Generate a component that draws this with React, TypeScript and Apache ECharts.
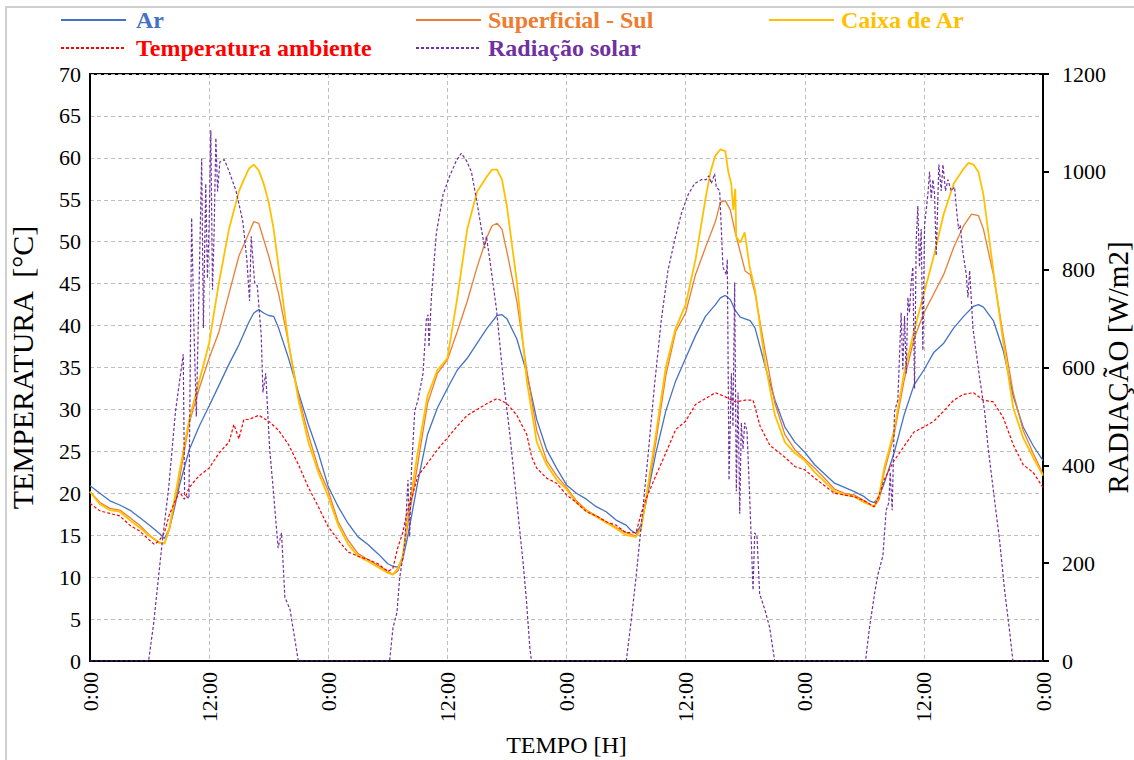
import React, { useEffect, useRef } from "react";
import * as echarts from "echarts";

// ---- Data (hours since start, value) ----
const seriesNames = ["Ar", "Superficial - Sul", "Caixa de Ar", "Temperatura ambiente", "Radiação solar"];
const seriesColors = ["#4472C4", "#ED7D31", "#FFC000", "#FF0000", "#7030A0"];
const xTickLabels = ["0:00", "12:00"];

const ar: number[][] = [
  [0, 20.9], [1, 20.0], [2, 19.1], [3, 18.6], [4, 18.0], [5, 17.1], [6, 16.2], [7, 15.2], [7.5, 14.6], [8, 15.8], [8.5, 18.2], [9, 20.9], [10, 25.2], [11, 28.0], [12, 30.4], [13, 32.9], [14, 35.4], [15, 37.7], [16, 40.4], [16.5, 41.5], [17, 41.9], [17.5, 41.5], [18, 41.2], [18.5, 41.1], [19, 39.7], [20, 36.1], [21, 32.0], [22, 28.2], [23, 24.8],
  [24, 20.8], [25, 18.4], [26, 16.4], [27, 14.8], [28, 13.9], [29, 12.8], [30, 11.6], [30.5, 11.3], [31, 11.2], [31.5, 12.1], [32, 14.8], [33, 21.2], [34, 27.0], [35, 30.2], [36, 32.5], [37, 34.7], [38, 36.1], [39, 37.9], [40, 39.7], [41, 41.2], [41.5, 41.3], [42, 40.8], [43, 38.4], [44, 34.3], [45, 28.8], [46, 25.2], [47, 23.0],
  [48, 21.0], [49, 20.0], [50, 19.3], [51, 18.4], [52, 17.8], [53, 16.8], [54, 16.2], [54.5, 15.6], [55, 15.2], [55.5, 16.2], [56, 18.9], [57, 24.8], [58, 29.8], [59, 33.4], [60, 36.1], [61, 38.8], [62, 41.1], [63, 42.5], [63.5, 43.3], [64, 43.6], [64.5, 43.1], [65, 41.8], [65.5, 41.0], [66, 40.8], [66.5, 40.6], [67, 39.7], [68, 35.2], [69, 31.1], [70, 27.9], [71, 26.1],
  [72, 24.9], [73, 23.4], [74, 22.3], [75, 21.2], [76, 20.7], [77, 20.2], [78, 19.6], [78.5, 19.1], [79, 18.9], [79.5, 19.6], [80, 21.2], [81, 24.8], [82, 29.3], [83, 32.9], [84, 34.7], [85, 36.8], [86, 37.9], [87, 39.7], [88, 41.1], [89, 42.3], [89.5, 42.5], [90, 42.2], [91, 40.6], [92, 37.0], [93, 31.6], [94, 27.9], [95, 25.7], [96, 23.9],
];

const superficialSul: number[][] = [
  [0, 20.2], [1, 18.9], [2, 18.2], [3, 18.0], [4, 17.1], [5, 16.2], [6, 15.0], [7, 14.1], [7.5, 14.0], [8, 15.7], [9, 21.6], [10, 28.4], [11, 32.5], [12, 36.1], [13, 39.3], [14, 43.8], [15, 48.3], [16, 51.0], [16.5, 52.4], [17, 52.2], [18, 48.3], [19, 43.8], [20, 37.9], [21, 31.6], [22, 27.0], [23, 23.0],
  [24, 20.3], [25, 16.6], [26, 14.4], [27, 12.8], [28, 12.1], [29, 11.4], [30, 10.7], [30.5, 10.3], [31, 10.7], [31.5, 12.1], [32, 16.2], [33, 23.4], [34, 30.7], [35, 34.3], [36, 35.9], [37, 39.3], [38, 42.9], [39, 47.0], [40, 50.6], [40.5, 51.9], [41, 52.2], [41.5, 51.5], [42, 48.8], [43, 42.9], [44, 34.7], [45, 27.5], [46, 23.9], [47, 22.1],
  [48, 20.7], [49, 19.1], [50, 18.0], [51, 17.3], [52, 16.6], [53, 15.9], [54, 15.3], [55, 14.9], [55.5, 15.9], [56, 18.9], [57, 26.1], [58, 34.0], [59, 39.3], [60, 41.5], [61, 46.1], [62, 49.3], [63, 52.4], [63.5, 54.7], [64, 54.9], [64.5, 53.8], [65, 51.1], [65.5, 48.8], [66, 46.5], [66.5, 46.1], [67, 43.8], [68, 37.0], [69, 30.7], [70, 27.0], [71, 25.2],
  [72, 24.1], [73, 23.0], [74, 21.8], [75, 20.5], [76, 20.0], [77, 19.8], [78, 19.1], [79, 18.4], [79.5, 19.3], [80, 22.5], [81, 27.0], [82, 33.4], [83, 38.4], [84, 41.5], [85, 43.8], [86, 46.1], [87, 49.3], [88, 51.9], [88.8, 53.3], [89.5, 53.1], [90, 51.5], [91, 46.1], [92, 38.8], [93, 32.0], [94, 27.5], [95, 24.8], [96, 22.3],
];

const caixaDeAr: number[][] = [
  [0, 20.2], [1, 18.7], [2, 18.0], [3, 17.8], [4, 16.8], [5, 15.9], [6, 14.9], [7, 14.1], [7.5, 14.0], [8, 15.9], [9, 22.5], [10, 28.8], [11, 33.4], [12, 37.9], [13, 45.2], [14, 51.5], [15, 56.0], [15.5, 57.4], [16, 58.7], [16.5, 59.2], [17, 58.5], [17.5, 56.9], [18, 54.7], [18.5, 51.5], [19, 47.0], [20, 37.9], [21, 31.1], [22, 26.1], [23, 22.5],
  [24, 19.6], [25, 16.2], [26, 13.9], [27, 12.5], [28, 11.9], [29, 11.2], [30, 10.5], [30.5, 10.3], [31, 11.0], [31.5, 12.5], [32, 17.1], [33, 24.8], [34, 31.6], [35, 34.7], [36, 36.1], [37, 43.3], [38, 51.5], [39, 56.0], [40, 57.8], [40.5, 58.6], [41, 58.6], [41.5, 57.4], [42, 54.2], [43, 45.2], [44, 33.4], [45, 26.1], [46, 23.4], [47, 21.6],
  [48, 20.5], [49, 18.9], [50, 17.9], [51, 17.2], [52, 16.5], [53, 15.8], [54, 15.0], [55, 14.8], [55.5, 15.7], [56, 19.3], [57, 27.0], [58, 35.0], [59, 39.7], [60, 42.5], [61, 47.9], [62, 55.1], [62.5, 58.3], [63, 60.3], [63.5, 61.0], [64, 60.8], [64.3, 58.3], [64.6, 56.9], [64.8, 53.8], [65, 56.3], [65.1, 50.6], [65.5, 49.9], [65.95, 51.1], [66.45, 47.0], [67, 44.2], [68, 35.6], [69, 29.3], [70, 26.1], [71, 24.8],
  [72, 23.9], [73, 22.5], [74, 21.4], [75, 20.2], [76, 19.8], [77, 19.6], [78, 18.9], [79, 18.4], [79.5, 19.8], [80, 23.0], [81, 27.5], [82, 34.3], [83, 39.3], [84, 43.8], [85, 48.3], [86, 53.3], [87, 56.9], [88, 58.7], [88.5, 59.4], [89, 59.2], [89.5, 58.3], [90, 55.6], [91, 46.5], [92, 38.0], [93, 30.2], [94, 26.6], [95, 24.3], [96, 22.1],
];

const tempAmbiente: number[][] = [
  [0, 18.8], [1, 17.9], [2, 17.6], [3, 17.3], [4, 16.2], [5, 15.5], [6, 14.4], [6.5, 13.9], [7, 14.4], [7.5, 15.3], [8, 17.5], [9, 20.2], [9.5, 19.3], [10, 20.7], [11, 22.1], [12, 23.0], [13, 24.8], [14, 26.1], [14.5, 28.2], [15, 26.5], [15.5, 28.8], [16, 28.8], [17, 29.3], [18, 28.6], [19, 27.5], [20, 25.8], [21, 23.4], [22, 20.7], [23, 18.4],
  [24, 16.0], [25, 14.4], [26, 13.0], [27, 12.5], [28, 12.1], [29, 11.6], [30, 10.7], [30.5, 11.0], [31, 13.5], [31.5, 15.3], [32, 18.0], [32.5, 19.8], [33, 22.0], [34, 23.6], [35, 25.2], [36, 26.6], [37, 28.0], [38, 29.3], [39, 30.0], [40, 30.7], [41, 31.3], [42, 30.7], [43, 29.3], [44, 27.0], [44.5, 24.3], [45, 23.0], [46, 21.8], [47, 21.2],
  [48, 19.8], [49, 18.9], [50, 17.8], [51, 17.3], [52, 16.6], [53, 16.2], [54, 15.3], [55, 15.3], [55.5, 17.5], [56, 19.3], [57, 22.1], [58, 24.8], [59, 27.6], [60, 28.6], [61, 30.6], [62, 31.3], [63, 32.0], [64, 31.5], [65, 30.9], [66, 31.1], [66.8, 31.1], [67.5, 28.0], [68.5, 25.7], [70, 24.3], [71, 23.2],
  [72, 22.8], [73, 21.8], [74, 20.9], [75, 20.0], [76, 19.8], [77, 19.6], [78, 19.1], [79, 18.4], [79.5, 19.8], [80, 21.6], [81, 23.9], [82, 25.6], [83, 27.3], [84, 27.9], [85, 28.6], [86, 29.8], [87, 31.1], [88, 31.8], [89, 32.0], [90, 31.1], [91, 30.9], [92, 29.0], [93, 25.8], [94, 23.4], [95, 22.5], [96, 20.7],
];

const radiacao: number[][] = [
  [0, 0], [5.9, 0], [6.4, 75], [7.25, 238], [7.93, 355], [8.61, 510], [9.39, 627], [9.53, 340], [9.97, 332], [10.24, 906], [10.47, 681], [10.71, 500], [10.98, 759], [11.25, 1027], [11.42, 681], [11.66, 976], [11.83, 782], [12.0, 891], [12.17, 1085], [12.34, 759], [12.5, 875], [12.68, 1069], [12.85, 960], [13.08, 1020], [13.53, 1025], [14.03, 1000], [14.71, 961], [15.39, 899], [15.8, 821], [16.07, 736], [16.24, 868], [16.58, 774], [16.85, 767], [17.25, 666], [17.42, 549], [17.7, 588], [18.1, 433], [18.44, 355], [18.95, 231], [19.29, 262], [19.63, 130], [20.14, 106], [20.64, 44], [20.98, 0],
  [30.18, 0], [30.52, 68], [30.92, 99], [31.19, 169], [31.7, 238], [32.03, 370], [32.2, 254], [32.37, 386], [32.71, 510], [33.04, 534], [33.55, 588], [33.88, 697], [34.05, 708], [34.15, 642], [34.39, 743], [34.89, 875], [35.56, 953], [36.24, 992], [36.91, 1023], [37.41, 1038], [37.92, 1023], [38.42, 1000], [38.92, 945], [39.43, 883], [39.76, 844], [39.93, 868], [40.27, 821], [40.94, 720], [41.61, 580], [42.29, 464], [42.96, 332], [43.63, 200], [43.97, 122], [44.3, 29], [44.47, 0],
  [54.02, 0], [54.52, 83], [55.03, 176], [55.53, 277], [56.2, 417], [56.87, 565], [57.55, 697], [58.22, 798], [58.89, 860], [59.56, 914], [60.24, 953], [60.91, 976], [61.58, 984], [62.08, 984], [62.32, 992], [62.59, 976], [62.92, 996], [63.09, 969], [63.43, 961], [63.76, 805], [64.1, 790], [64.2, 821], [64.37, 370], [64.61, 588], [64.77, 479], [64.94, 774], [65.11, 347], [65.28, 549], [65.45, 301], [65.61, 487], [65.78, 433], [65.95, 487], [66.18, 471], [66.45, 339], [66.79, 145], [66.96, 262], [67.19, 254], [67.46, 137], [67.97, 106], [68.47, 68], [68.97, 0],
  [78.12, 0], [78.52, 68], [79.03, 137], [79.36, 176], [79.87, 215], [80.2, 308], [80.47, 324], [80.61, 386], [80.81, 308], [81.04, 510], [81.38, 534], [81.71, 712], [81.88, 596], [82.05, 705], [82.22, 588], [82.39, 743], [82.55, 712], [82.72, 774], [82.89, 805], [83.06, 557], [83.23, 860], [83.39, 930], [83.56, 805], [83.73, 883], [83.9, 635], [84.07, 891], [84.4, 953], [84.57, 1000], [84.74, 945], [84.91, 984], [85.08, 953], [85.24, 829], [85.51, 1015], [85.75, 961], [85.92, 1015], [86.18, 961], [86.42, 984], [86.76, 961], [87.09, 969], [87.33, 914], [87.5, 883], [87.66, 891], [87.93, 836], [88.27, 790], [88.44, 743], [88.61, 798], [88.94, 681], [89.61, 580], [90.12, 510], [90.45, 440], [90.96, 355], [91.63, 246], [92.13, 145], [92.64, 60], [92.97, 0], [96, 0],
];

const FONT = "Liberation Serif";
const W = 1134;
const H = 760;

export default function App() {
  const ref = useRef<HTMLDivElement>(null);

  useEffect(() => {
    document.body.style.margin = "0";
    document.body.style.overflow = "hidden";
    if (!ref.current) return;
    const chart = echarts.init(ref.current, undefined, { renderer: "svg", width: W, height: H });

    const dataSets = [ar, superficialSul, caixaDeAr, tempAmbiente, radiacao];
    const widths = [1.3, 1.3, 1.8, 1.2, 1.2];
    const dashed = [false, false, false, true, true];

    const legendPos = [
      { left: 60, top: 8 },
      { left: 415, top: 8 },
      { left: 768, top: 8 },
      { left: 60, top: 36 },
      { left: 415, top: 36 },
    ];

    const option: any = {
      animation: false,
      backgroundColor: "#ffffff",
      textStyle: { fontFamily: FONT },
      legend: seriesNames.map((name, i) => ({
        data: [name],
        left: legendPos[i].left,
        top: legendPos[i].top,
        itemWidth: 65,
        itemHeight: 12,
        padding: 0,
        itemStyle: { opacity: 0 },
        textStyle: {
          color: seriesColors[i],
          fontFamily: FONT,
          fontWeight: "bold",
          fontSize: 24,
          padding: [0, 0, 0, i === 0 || i === 3 ? 5 : 2],
        },
        selectedMode: false,
      })),
      graphic: [
        {
          type: "rect",
          shape: { x: 6, y: 7, width: 1140, height: 770 },
          style: { fill: "none", stroke: "#d0d0d0", lineWidth: 2 },
          silent: true,
        },
      ],
      grid: {
        left: 90,
        right: 91,
        top: 74,
        bottom: 99,
        outerBoundsMode: "none",
        containLabel: false,
        show: true,
        borderColor: "#000",
        borderWidth: 2,
        backgroundColor: "transparent",
      },
      xAxis: {
        type: "value",
        min: 0,
        max: 96,
        interval: 12,
        name: "TEMPO [H]",
        nameLocation: "middle",
        nameGap: 72,
        nameTextStyle: { color: "#000", fontSize: 24, fontFamily: FONT },
        axisLine: { lineStyle: { color: "#000", width: 2 } },
        axisTick: { show: false },
        axisLabel: {
          rotate: 90,
          color: "#000",
          fontSize: 22,
          fontFamily: FONT,
          margin: 11,
          formatter: (v: number) => xTickLabels[(v / 12) % 2],
        },
        splitLine: { show: true, lineStyle: { color: "#bfbfbf", type: [4, 3], width: 1 } },
      },
      yAxis: [
        {
          type: "value",
          min: 0,
          max: 70,
          interval: 5,
          name: "TEMPERATURA  [°C]",
          nameLocation: "middle",
          nameGap: 53,
          nameTextStyle: { color: "#000", fontSize: 30, fontFamily: FONT },
          axisLine: { show: true, lineStyle: { color: "#000", width: 2 } },
          axisTick: { show: false },
          axisLabel: { color: "#000", fontSize: 22, fontFamily: FONT, margin: 9 },
          splitLine: { show: true, lineStyle: { color: "#bfbfbf", type: [4, 3], width: 1 } },
        },
        {
          type: "value",
          min: 0,
          max: 1200,
          interval: 200,
          position: "right",
          name: "RADIAÇÃO [W/m2]",
          nameLocation: "middle",
          nameGap: 60,
          nameRotate: 90,
          nameMoveOverlap: false,
          nameTextStyle: { color: "#000", fontSize: 29, fontFamily: FONT },
          axisLine: { show: true, lineStyle: { color: "#000", width: 2 } },
          axisTick: { show: true, inside: false, length: 6, lineStyle: { color: "#000", width: 2 } },
          axisLabel: {
            color: "#000",
            fontSize: 22,
            fontFamily: FONT,
            margin: 19,
            formatter: (v: number) => String(v),
          },
          splitLine: { show: false },
        },
      ],
      series: seriesNames.map((name, i) => ({
        name,
        type: "line",
        yAxisIndex: i === 4 ? 1 : 0,
        data: dataSets[i],
        showSymbol: false,
        symbol: "none",
        smooth: false,
        color: seriesColors[i],
        lineStyle: {
          color: seriesColors[i],
          width: widths[i],
          type: dashed[i] ? [3, 2] : "solid",
        },
        z: i === 4 ? 5 : 3 + i * 0.1,
      })),
    };

    chart.setOption(option);
    return () => chart.dispose();
  }, []);

  return (
    <div
      ref={ref}
      style={{ width: W, height: H, position: "absolute", left: 0, top: 0 }}
    />
  );
}
